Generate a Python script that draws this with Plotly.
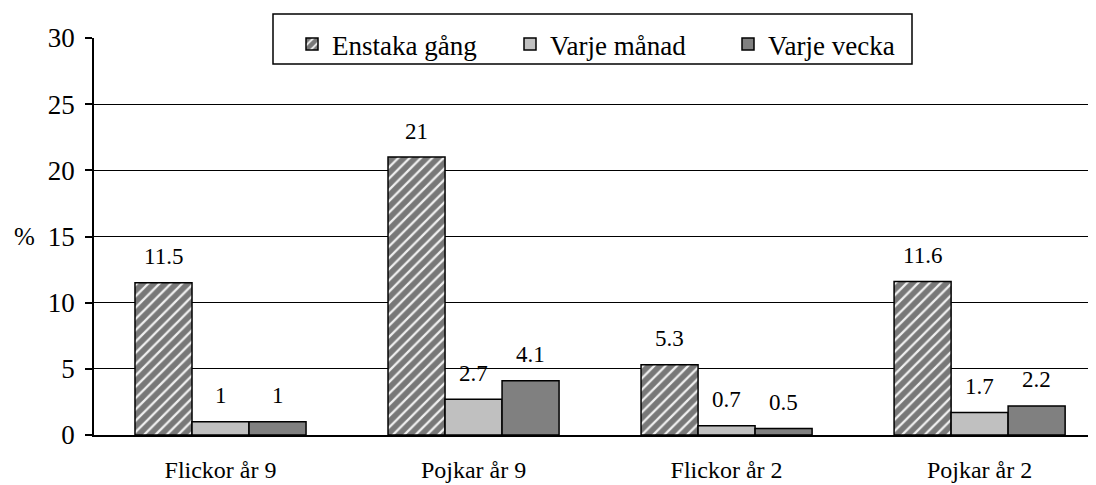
import plotly.graph_objects as go

categories = ["Flickor år 9", "Pojkar år 9", "Flickor år 2", "Pojkar år 2"]
series_names = ["Enstaka gång", "Varje månad", "Varje vecka"]
enstaka = [11.5, 21, 5.3, 11.6]
manad = [1, 2.7, 0.7, 1.7]
vecka = [1, 4.1, 0.5, 2.2]
y_ticks = [0, 5, 10, 15, 20, 25, 30]

FONT = "Liberation Serif"
OFF = 8  # page body margin
W, H = 1096 - OFF, 485 - OFF
ML, MT = 94 - OFF, 38 - OFF
PLOT_BOTTOM = 435 - OFF
MR = 0
MB = H - PLOT_BOTTOM
PW, PH = W - ML - MR, PLOT_BOTTOM - MT


def px_x(wx):
    return (wx - OFF - ML) / PW


def px_y(wy):
    return (PLOT_BOTTOM - (wy - OFF)) / PH


fig = go.Figure()
fig.add_bar(
    name=series_names[0], x=categories, y=enstaka,
    marker=dict(color="white", line=dict(color="black", width=1.5),
                pattern=dict(shape="/", fgcolor="black", bgcolor="#f0f0f0", size=8, solidity=0.72)),
)
fig.add_bar(
    name=series_names[1], x=categories, y=manad,
    marker=dict(color="#c0c0c0", line=dict(color="black", width=1.5)),
)
fig.add_bar(
    name=series_names[2], x=categories, y=vecka,
    marker=dict(color="#808080", line=dict(color="black", width=1.5)),
)

# value labels
offsets = [-1, 0, 1]
bw = (1 - 0.324) / 3
for k, vals in enumerate([enstaka, manad, vecka]):
    for i, v in enumerate(vals):
        fig.add_annotation(
            x=i + offsets[k] * bw, y=v, xref="x", yref="y",
            text=f"{v:g}", showarrow=False, yanchor="middle", yshift=26,
            font=dict(family=FONT, size=23, color="black"),
        )

fig.add_annotation(
    x=px_x(12), y=15, xref="paper", yref="y", text="%", showarrow=False,
    xanchor="left", yanchor="middle", font=dict(family=FONT, size=25, color="black"),
)

# legend frame
fig.add_shape(
    type="rect", xref="paper", yref="paper",
    x0=px_x(273), x1=px_x(912), y0=px_y(64), y1=px_y(14),
    fillcolor="white", line=dict(color="black", width=1.5), layer="above",
)
# y axis line extension below zero
fig.add_shape(
    type="line", xref="paper", yref="y", ysizemode="pixel", yanchor=0,
    x0=0, x1=0, y0=0, y1=-7, line=dict(color="black", width=1.5), layer="above",
)

fig.update_layout(
    width=W, height=H,
    margin=dict(l=ML, r=MR, t=MT, b=MB, autoexpand=False),
    paper_bgcolor="white", plot_bgcolor="white",
    barmode="group", bargap=0.324, bargroupgap=0,
    font=dict(family=FONT, color="black"),
    showlegend=True,
    legend=dict(
        orientation="h", xref="container", yref="container",
        x=284 / W, y=1 - 12 / H, xanchor="left", yanchor="top",
        bgcolor="rgba(0,0,0,0)", borderwidth=0,
        font=dict(family=FONT, size=27, color="black"),
        itemwidth=30, entrywidth=173, entrywidthmode="pixels",
    ),
    xaxis=dict(
        type="category", range=[-0.5, 3.46], showline=True, linecolor="black", linewidth=1.5,
        ticks="", tickfont=dict(family=FONT, size=24, color="black"), showgrid=False,
        ticklabelstandoff=12,
    ),
    yaxis=dict(
        range=[0, 30], tickvals=y_ticks, showline=True, linecolor="black", linewidth=1.5,
        ticks="outside", ticklen=7, tickwidth=1.5, tickcolor="black",
        showgrid=True, gridcolor="black", gridwidth=1.2, zeroline=False,
        tickfont=dict(family=FONT, size=27, color="black"),
        ticklabelstandoff=5,
    ),
)

fig.write_html("out.html")
